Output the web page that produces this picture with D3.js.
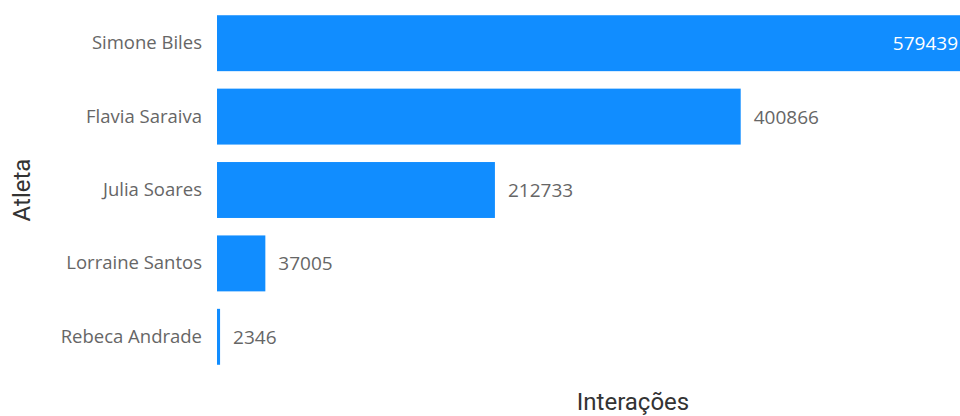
<!DOCTYPE html>
<html>
<head>
<meta charset="utf-8">
<script src="https://cdn.jsdelivr.net/npm/d3@7"></script>
<style>
  html, body { margin: 0; padding: 0; background: #fff; overflow: hidden; }
  svg { display: block; }
</style>
</head>
<body>
<svg id="chart" width="960" height="416"></svg>
<script>
// Athletes and their interaction counts
const athletes = ["Simone Biles", "Flavia Saraiva", "Julia Soares", "Lorraine Santos", "Rebeca Andrade"];
const interactions = [579439, 400866, 212733, 37005, 2346];
const xTitle = "Interações";
const yTitle = "Atleta";

const barColor = "#118DFF";
const width = 960, height = 416;

const chartBox = d3.select("#chart");

const rows = athletes.map((name, i) => ({ name: name, value: interactions[i] }));

// x runs a bit past the right edge, like the cropped original
const xScale = d3.scaleLinear()
    .domain([0, d3.max(interactions)])
    .range([217, 974]);

const yScale = d3.scaleBand()
    .domain(athletes)
    .range([6.5, 373.5])
    .paddingInner(0.238)
    .paddingOuter(0.119);

// Bars
chartBox.selectAll("rect.bar")
    .data(rows)
    .join("rect")
    .attr("class", "bar")
    .attr("x", xScale(0))
    .attr("y", d => yScale(d.name))
    .attr("width", d => Math.max(2, xScale(d.value) - xScale(0)))
    .attr("height", yScale.bandwidth())
    .attr("fill", barColor);

// Category labels (left axis, no line or ticks)
const yAxis = chartBox.append("g")
    .attr("transform", "translate(" + (xScale(0) - 6) + ",0)")
    .call(d3.axisLeft(yScale).tickSize(0).tickPadding(9));
yAxis.select(".domain").remove();
yAxis.selectAll("text")
    .attr("font-family", "'Open Sans', sans-serif")
    .attr("font-size", 18.5)
    .attr("fill", "#666666");

// Value labels: inside the bar when it reaches the edge, outside otherwise
chartBox.selectAll("text.value")
    .data(rows)
    .join("text")
    .attr("class", "value")
    .attr("font-family", "'Open Sans', sans-serif")
    .attr("font-size", 19)
    .attr("dominant-baseline", "central")
    .attr("y", d => yScale(d.name) + yScale.bandwidth() / 2)
    .each(function(d) {
        const end = xScale(d.value);
        const t = d3.select(this);
        if (end > width - 80) {
            t.attr("x", Math.min(end, width) - 2)
             .attr("text-anchor", "end")
             .attr("fill", "#ffffff");
        } else {
            t.attr("x", end + 13)
             .attr("text-anchor", "start")
             .attr("fill", "#666666");
        }
    })
    .text(d => d.value);

// Axis titles
chartBox.append("text")
    .attr("transform", "translate(633,410)")
    .attr("text-anchor", "middle")
    .attr("font-family", "Roboto, sans-serif")
    .attr("font-size", 24)
    .attr("fill", "#333333")
    .text(xTitle);

chartBox.append("text")
    .attr("transform", "translate(30,190) rotate(-90)")
    .attr("text-anchor", "middle")
    .attr("font-family", "Roboto, sans-serif")
    .attr("font-size", 24)
    .attr("fill", "#333333")
    .text(yTitle);
</script>
</body>
</html>
